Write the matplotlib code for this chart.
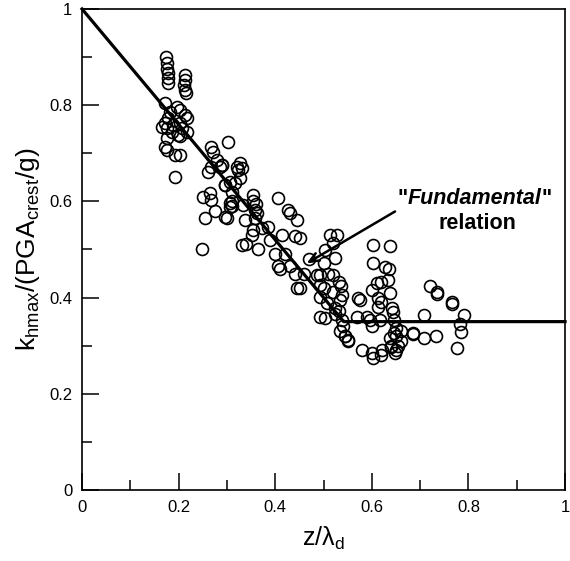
import matplotlib
matplotlib.use("Agg")
import matplotlib.pyplot as plt
from matplotlib.ticker import MultipleLocator, FixedLocator

plt.rcParams['font.family'] = ['Liberation Sans', 'DejaVu Sans']
plt.rcParams['mathtext.fontset'] = 'custom'
plt.rcParams['mathtext.rm'] = 'Liberation Sans'
plt.rcParams['mathtext.it'] = 'Liberation Sans:italic'

# Observed data points (z/lambda_d, k_hmax/(PGA_crest/g))
x_obs = [
    0.174, 0.175, 0.175, 0.177, 0.179, 0.179,
    0.213, 0.213, 0.211, 0.213, 0.215,
    0.172, 0.196, 0.203, 0.182, 0.213, 0.217, 0.179, 0.172, 0.165, 0.175,
    0.189, 0.203, 0.206, 0.186, 0.199, 0.175, 0.203, 0.217, 0.172, 0.175,
    0.193, 0.203, 0.193,
    0.303, 0.268, 0.272, 0.279, 0.268, 0.261, 0.289, 0.323, 0.320,
    0.289, 0.327, 0.331, 0.327, 0.306, 0.296, 0.317, 0.310, 0.310, 0.306,
    0.296, 0.334, 0.355, 0.355, 0.360, 0.358, 0.362, 0.358, 0.337, 0.355,
    0.351, 0.372, 0.386, 0.406, 0.427, 0.430, 0.445, 0.413, 0.441, 0.331,
    0.340, 0.365,
    0.251, 0.265, 0.268, 0.255, 0.275, 0.300, 0.248, 0.306, 0.310, 0.286,
    0.296,
    0.390, 0.400, 0.405, 0.410, 0.420, 0.430, 0.440, 0.445, 0.470, 0.460,
    0.451, 0.451, 0.486,
    0.513, 0.527, 0.520, 0.503, 0.524, 0.500, 0.493, 0.510, 0.520, 0.531,
    0.536, 0.493, 0.500, 0.520, 0.538, 0.493, 0.534, 0.507, 0.524, 0.531,
    0.493, 0.503, 0.538, 0.541, 0.535, 0.545, 0.550, 0.524,
    0.572, 0.575, 0.603, 0.638, 0.603, 0.627, 0.636, 0.634, 0.620, 0.610,
    0.600, 0.638, 0.613, 0.618, 0.613, 0.641, 0.643, 0.569, 0.590, 0.596,
    0.600, 0.617, 0.645, 0.651, 0.645, 0.686,
    0.550, 0.545, 0.580, 0.600, 0.602, 0.620, 0.622, 0.640, 0.650, 0.655,
    0.660, 0.650, 0.660, 0.637, 0.640, 0.648,
    0.720, 0.734, 0.734, 0.765, 0.766, 0.790, 0.783, 0.784, 0.776, 0.707,
    0.685, 0.707, 0.733,
]
y_obs = [
    0.901, 0.887, 0.876, 0.866, 0.856, 0.847,
    0.863, 0.852, 0.842, 0.832, 0.825,
    0.804, 0.797, 0.790, 0.786, 0.780, 0.773, 0.773, 0.762, 0.755, 0.752,
    0.759, 0.762, 0.752, 0.745, 0.738, 0.731, 0.735, 0.745, 0.714, 0.707,
    0.697, 0.697, 0.651,
    0.724, 0.714, 0.703, 0.686, 0.672, 0.662, 0.676, 0.665, 0.672,
    0.676, 0.679, 0.669, 0.648, 0.641, 0.634, 0.638, 0.620, 0.600, 0.589,
    0.568, 0.593, 0.613, 0.600, 0.594, 0.582, 0.575, 0.565, 0.561, 0.541,
    0.530, 0.544, 0.547, 0.606, 0.582, 0.576, 0.561, 0.530, 0.527, 0.509,
    0.512, 0.502,
    0.610, 0.617, 0.603, 0.565, 0.579, 0.565, 0.502, 0.596, 0.590, 0.672,
    0.634,
    0.520, 0.490, 0.465, 0.460, 0.490, 0.465, 0.450, 0.420, 0.480, 0.450,
    0.523, 0.419, 0.447,
    0.530, 0.530, 0.513, 0.499, 0.482, 0.471, 0.447, 0.450, 0.447, 0.433,
    0.425, 0.426, 0.420, 0.412, 0.405, 0.402, 0.395, 0.388, 0.378, 0.372,
    0.360, 0.357, 0.353, 0.340, 0.330, 0.320, 0.312, 0.365,
    0.399, 0.395, 0.509, 0.507, 0.471, 0.464, 0.460, 0.437, 0.433, 0.430,
    0.416, 0.409, 0.399, 0.390, 0.381, 0.378, 0.370, 0.360, 0.360, 0.353,
    0.340, 0.353, 0.353, 0.336, 0.326, 0.326,
    0.310, 0.320, 0.290, 0.285, 0.275, 0.280, 0.292, 0.300, 0.290, 0.300,
    0.310, 0.320, 0.330, 0.315, 0.298, 0.284,
    0.425, 0.412, 0.407, 0.390, 0.387, 0.363, 0.345, 0.329, 0.296, 0.363,
    0.324, 0.315, 0.320,
]

# "Fundamental" relation (piecewise linear)
x_rel = [0.0, 0.5417, 1.0]
y_rel = [1.0, 0.35, 0.35]

fig = plt.figure(figsize=(5.70, 5.61), dpi=100)
ax = fig.add_axes([0.1439, 0.1266, 0.8474, 0.8574])

ax.plot(x_obs, y_obs, linestyle='none', marker='o', markersize=8.6,
        markerfacecolor='none', markeredgecolor='black', markeredgewidth=1.2,
        zorder=2)
ax.plot(x_rel, y_rel, color='black', linewidth=2.3, zorder=3, clip_on=False)

ax.set_xlim(0, 1)
ax.set_ylim(0, 1)
ax.xaxis.set_major_locator(FixedLocator([0, 0.2, 0.4, 0.6, 0.8, 1.0]))
ax.yaxis.set_major_locator(FixedLocator([0, 0.2, 0.4, 0.6, 0.8, 1.0]))
ax.xaxis.set_minor_locator(MultipleLocator(0.1))
ax.yaxis.set_minor_locator(MultipleLocator(0.1))
ax.set_xticklabels(['0', '0.2', '0.4', '0.6', '0.8', '1'])
ax.set_yticklabels(['0', '0.2', '0.4', '0.6', '0.8', '1'])
ax.tick_params(which='major', direction='in', length=12, width=1.1,
               labelsize=12, pad=7, top=False, right=False)
ax.tick_params(which='minor', direction='in', length=7, width=1.1,
               top=False, right=False)
for s in ax.spines.values():
    s.set_linewidth(1.2)

ax.set_xlabel(r'$\mathrm{z/\lambda_d}$', fontsize=18, labelpad=7)
ax.set_ylabel(r'$\mathrm{k_{hmax}/(PGA_{crest}/g)}$', fontsize=19, labelpad=5)

# annotation arrow
ax.annotate('', xy=(0.465, 0.471), xytext=(0.648, 0.579),
            arrowprops=dict(arrowstyle='->,head_length=0.7,head_width=0.3',
                            color='black', lw=1.8,
                            shrinkA=0, shrinkB=0))

# annotation text: "Fundamental" (bold italic, quotes bold) / relation
fig.canvas.draw()
renderer = fig.canvas.get_renderer()
fs = 15.5
parts = [('"', 'normal'), ('Fundamental', 'italic'), ('"', 'normal')]
texts = []
for t, st in parts:
    texts.append(ax.text(0, 0, t, fontsize=fs, fontweight='bold', style=st,
                         ha='left', va='center', transform=None))
widths = [tx.get_window_extent(renderer).width for tx in texts]
total = sum(widths)
cx, cy = ax.transData.transform((0.812, 0.606))
x0 = cx - total / 2
for tx, w in zip(texts, widths):
    tx.set_position((x0, cy))
    x0 += w
ax.text(0.818, 0.554, 'relation', fontsize=fs, fontweight='bold',
        ha='center', va='center')

fig.savefig('out.png', dpi=100)
